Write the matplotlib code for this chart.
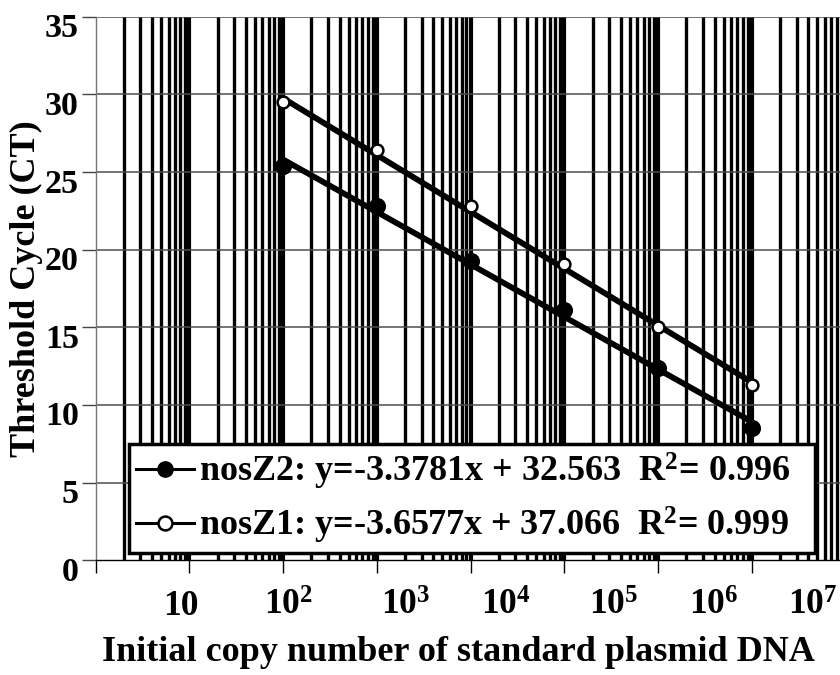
import matplotlib.pyplot as plt
import numpy as np
from matplotlib.lines import Line2D
from matplotlib.transforms import ScaledTranslation

plt.rcParams['font.family'] = ['Liberation Serif', 'DejaVu Serif']
plt.rcParams['font.weight'] = 'bold'
plt.rcParams['mathtext.fontset'] = 'custom'
plt.rcParams['mathtext.rm'] = 'Liberation Serif:bold'
plt.rcParams['mathtext.bf'] = 'Liberation Serif:bold'
plt.rcParams['mathtext.default'] = 'rm'

# data
copies = [1e2, 1e3, 1e4, 1e5, 1e6, 1e7]
ct_nosZ2 = [25.4, 22.8, 19.3, 16.1, 12.4, 8.5]
ct_nosZ1 = [29.5, 26.4, 22.8, 19.1, 15.0, 11.3]
fit_nosZ2 = (-3.3781, 32.563, 0.996)   # slope, intercept, R2
fit_nosZ1 = (-3.6577, 37.066, 0.999)

xtick_labels = ['10', '$10^{2}$', '$10^{3}$', '$10^{4}$', '$10^{5}$', '$10^{6}$', '$10^{7}$']
# where the labels sit (in decades), they are offset from the ticks in the original
xtick_label_pos = [0.91, 2.06, 3.31, 4.38, 5.52, 6.59, 7.65]
yticks = [0, 5, 10, 15, 20, 25, 30, 35]

fig = plt.figure(figsize=(8.4, 6.75), dpi=100)
ax = fig.add_axes([0.114, 0.170, 0.886, 0.805])
ax.set_xscale('log')
ax.set_xlim(1, 10 ** 7.94)
ax.set_ylim(0, 35)

# dense vertical grid (major + minor decades)
for d in range(0, 8):
    for m in range(1, 10):
        v = m * 10 ** d
        if v > 10 ** 7.94:
            break
        if m == 1 and d == 0:
            continue
        ax.axvline(v, color='black', lw=3.0 if m == 1 else 2.4, zorder=1)
for y in yticks[1:]:
    ax.axhline(y, color='#4d4d4d', lw=1.1, zorder=1.5)

# trendlines + points
lx = np.log10([copies[0], copies[-1]])
for fit, ct, face, ms in [(fit_nosZ2, ct_nosZ2, 'black', 10.5), (fit_nosZ1, ct_nosZ1, 'white', 8.5)]:
    ax.plot(10 ** lx, fit[0] * lx + fit[1], color='black', lw=4.2, zorder=3, solid_capstyle='butt')
    ax.plot(copies, ct, 'o', ms=ms, mfc=face, mec='black', mew=1.8, zorder=4)

for s in ['top', 'right']:
    ax.spines[s].set_visible(False)
ax.spines['left'].set_color('#777777')
ax.spines['left'].set_linewidth(1.0)
ax.spines['bottom'].set_linewidth(1.0)

ax.set_xticks([10 ** d for d in range(0, 8)])
ax.set_xticklabels([])
ax.xaxis.set_minor_locator(plt.NullLocator())
ax.tick_params(axis='x', direction='out', length=9, width=1.0)
for lab, p in zip(xtick_labels, xtick_label_pos):
    ax.text(10 ** p, -0.101, lab, transform=ax.get_xaxis_transform(), ha='center',
            va='baseline', fontsize=25.5, fontweight='bold')

ax.set_yticks(yticks)
ax.set_yticklabels([str(v) for v in yticks], fontsize=24.5, fontweight='bold')
ax.tick_params(axis='y', direction='out', length=10, width=1.0, pad=2.2, color='#444444')
off = ScaledTranslation(0, -8.5 / 100, fig.dpi_scale_trans)
for t in ax.get_yticklabels():
    t.set_transform(t.get_transform() + off)

ax.set_xlabel('Initial copy number of standard plasmid DNA', fontsize=26, fontweight='bold')
ax.xaxis.set_label_coords(0.487, -0.139)
ax.set_ylabel('Threshold Cycle (CT)', fontsize=26, fontweight='bold')
ax.yaxis.set_label_coords(-0.071, 0.5)

h2 = Line2D([], [], color='black', lw=2.2, marker='o', ms=11, mfc='black', mec='black')
h1 = Line2D([], [], color='black', lw=2.2, marker='o', ms=10, mfc='white', mec='black', mew=1.8)
lab2 = 'nosZ2: y=%.4fx + %.3f  R$^{2}$= %.3f' % fit_nosZ2
lab1 = 'nosZ1: y=%.4fx + %.3f  R$^{2}$= %.3f' % fit_nosZ1
leg = ax.legend([h2, h1], [lab2, lab1], loc='lower left',
                bbox_to_anchor=(0.044, 0.013, 0.922, 0.197), mode='expand',
                borderaxespad=0, prop={'weight': 'bold', 'size': 26},
                frameon=True, fancybox=False, framealpha=1, edgecolor='black',
                handlelength=1.6, handletextpad=0.15, labelspacing=0.35, borderpad=0.2)
leg.get_frame().set_linewidth(2.5)
leg.set_zorder(5)

fig.savefig('out.png', dpi=100)
